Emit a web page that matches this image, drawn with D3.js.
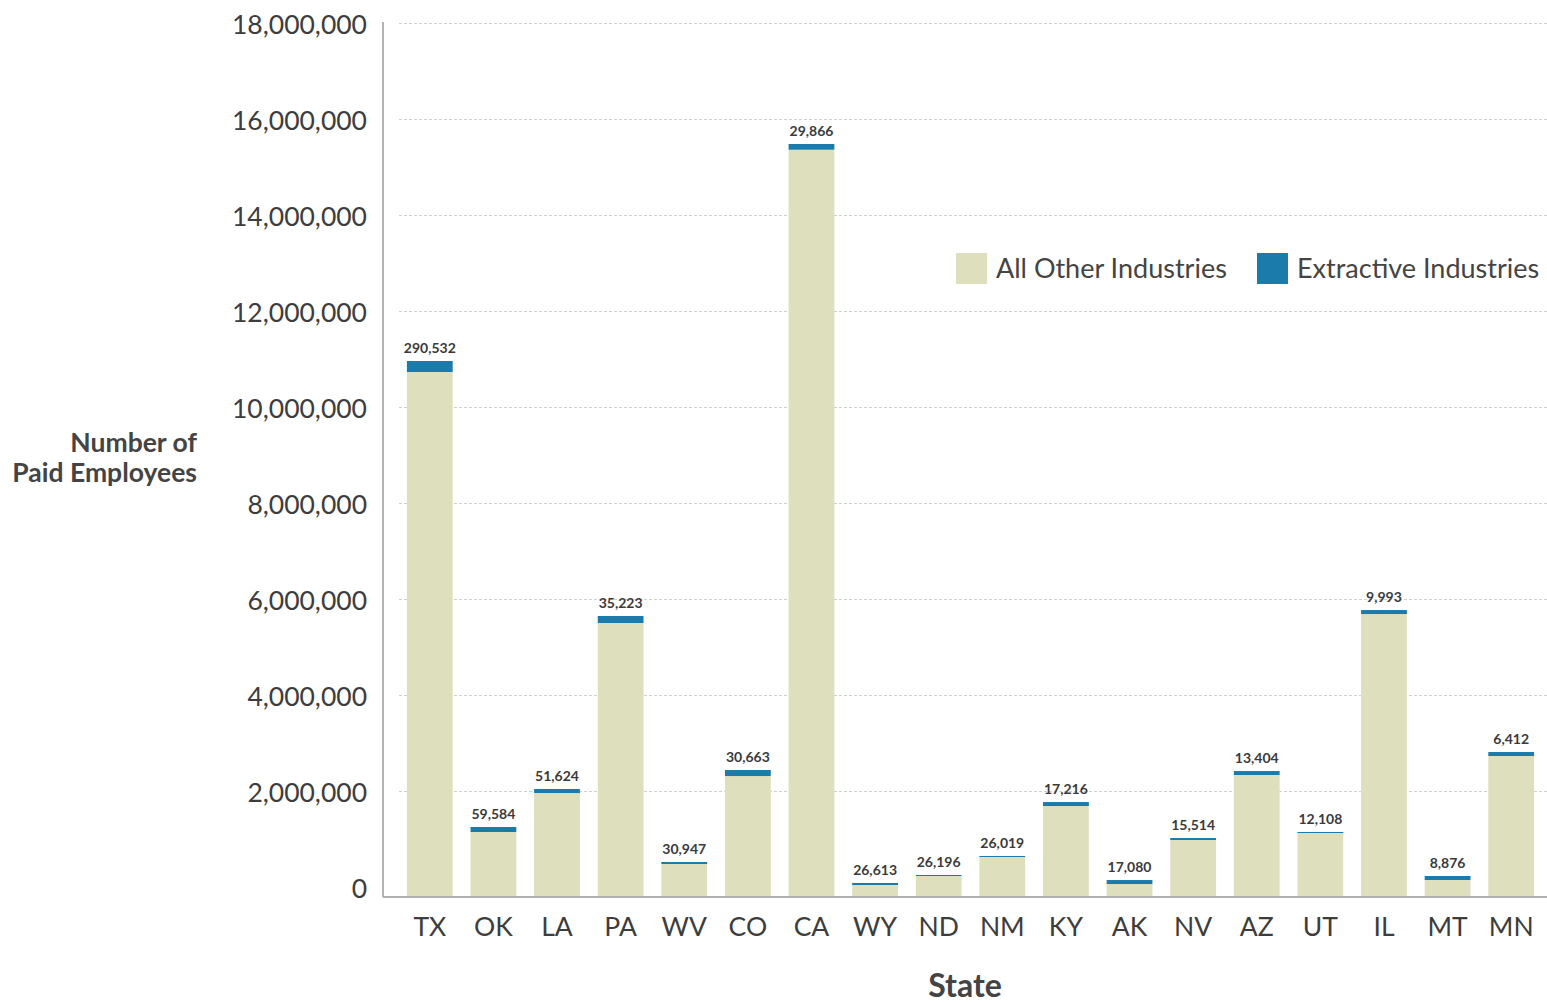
<!DOCTYPE html>
<html lang="en">
<head>
    <meta charset="UTF-8">
    <title>Paid Employees by State</title>
    <script src="https://d3js.org/d3.v7.min.js"></script>
    <style>
        body { margin: 0; background: #fff; }
        svg { font-family: Lato, "Open Sans", sans-serif; display: block; }
        .tick text { fill: #3d3d3d; }
    </style>
</head>
<body>
    <svg width="1547" height="1002"></svg>
    <script>
        // data
        const states = ["TX", "OK", "LA", "PA", "WV", "CO", "CA", "WY", "ND", "NM", "KY", "AK", "NV", "AZ", "UT", "IL", "MT", "MN"];
        // all other industries (beige part), as it sits on the axis
        const allOther = [10729000, 1146000, 1958000, 5500000, 479000, 2312000, 15360000, 42000, 229000, 625000,
                          1687000, 62000, 979000, 2333000, 1125000, 5687000, 146000, 2729000];
        // extractive industries segment (blue part), as drawn
        const extractive = [229000, 104000, 84000, 146000, 42000, 125000, 119000, 42000, 21000, 21000,
                            83000, 83000, 42000, 83000, 21000, 83000, 83000, 83000];
        // numbers printed above the bars
        const extractiveLabels = [290532, 59584, 51624, 35223, 30947, 30663, 29866, 26613, 26196, 26019,
                                  17216, 17080, 15514, 13404, 12108, 9993, 8876, 6412];
        const yTicks = [0, 2000000, 4000000, 6000000, 8000000, 10000000, 12000000, 14000000, 16000000, 18000000];
        const seriesNames = ["All Other Industries", "Extractive Industries"];
        const colors = ["#dedfbd", "#1b7bab"];

        const svg = d3.select("svg");
        const axisX = 383, baseY = 897;   // axis lines sit a little below the zero tick

        const x = d3.scaleBand()
            .domain(states)
            .range([398, 1543])
            .paddingInner(0.28)
            .paddingOuter(0.14);

        const y = d3.scaleLinear()
            .domain([0, 18000000])
            .range([887, 23]);

        // gridlines
        svg.append("g")
            .selectAll("line")
            .data(yTicks.filter(d => d > 0))
            .join("line")
            .attr("x1", 399)
            .attr("x2", 1547)
            .attr("y1", d => Math.round(y(d)) + 0.5)
            .attr("y2", d => Math.round(y(d)) + 0.5)
            .attr("stroke", "#d0d0d0")
            .attr("stroke-dasharray", "3,2");

        // y axis labels
        const yAxis = svg.append("g")
            .attr("transform", `translate(${axisX},2)`)
            .call(d3.axisLeft(y).tickValues(yTicks).tickFormat(d3.format(",")).tickSize(0).tickPadding(16));
        yAxis.select(".domain").remove();
        yAxis.selectAll("text").style("font-size", "26.5px").style("font-family", "Lato");

        const rows = states.map((s, i) => ({
            state: s,
            other: allOther[i],
            ext: extractive[i],
            label: extractiveLabels[i]
        }));

        // beige bars
        svg.append("g")
            .selectAll("rect")
            .data(rows)
            .join("rect")
            .attr("x", d => x(d.state))
            .attr("width", x.bandwidth())
            .attr("y", d => y(d.other))
            .attr("height", d => baseY - y(d.other))
            .attr("fill", colors[0]);

        // blue segments on top
        svg.append("g")
            .selectAll("rect")
            .data(rows)
            .join("rect")
            .attr("x", d => x(d.state))
            .attr("width", x.bandwidth())
            .attr("y", d => y(d.other + d.ext))
            .attr("height", d => y(d.other) - y(d.other + d.ext))
            .attr("fill", colors[1]);

        // value labels
        svg.append("g")
            .selectAll("text")
            .data(rows)
            .join("text")
            .attr("x", d => x(d.state) + x.bandwidth() / 2)
            .attr("y", d => y(d.other + d.ext) - 8)
            .attr("text-anchor", "middle")
            .style("font-size", "14px")
            .style("font-weight", 700)
            .style("fill", "#3a3a3a")
            .text(d => d3.format(",")(d.label));

        // axis lines
        svg.append("line")
            .attr("x1", axisX).attr("x2", axisX)
            .attr("y1", 22).attr("y2", baseY)
            .attr("stroke", "#9a9a9a").attr("stroke-width", 1.5);

        const xAxis = svg.append("g")
            .attr("transform", `translate(0,${baseY})`)
            .call(d3.axisBottom(x).tickSize(0).tickPadding(20));
        xAxis.select(".domain").remove();
        xAxis.selectAll("text").style("font-size", "26.5px").style("font-family", "Lato");

        svg.append("line")
            .attr("x1", axisX).attr("x2", 1547)
            .attr("y1", baseY).attr("y2", baseY)
            .attr("stroke", "#b0b0b0").attr("stroke-width", 2);

        // axis titles
        const yTitle = svg.append("text")
            .attr("text-anchor", "end")
            .style("font-size", "26.5px")
            .style("font-weight", 700)
            .style("fill", "#444");
        yTitle.append("tspan").attr("x", 197).attr("y", 452).text("Number of");
        yTitle.append("tspan").attr("x", 197).attr("y", 482).text("Paid Employees");

        svg.append("text")
            .attr("x", 965)
            .attr("y", 997)
            .attr("text-anchor", "middle")
            .style("font-size", "32px")
            .style("font-weight", 700)
            .style("fill", "#444")
            .text("State");

        // legend
        const legendX = [956, 1257];
        const legend = svg.append("g")
            .selectAll("g")
            .data(seriesNames)
            .join("g")
            .attr("transform", (d, i) => `translate(${legendX[i]},253)`);
        legend.append("rect")
            .attr("width", 31)
            .attr("height", 31)
            .attr("fill", (d, i) => colors[i]);
        legend.append("text")
            .attr("x", 40)
            .attr("y", 25)
            .style("font-size", "27px")
            .style("fill", "#444")
            .text(d => d);
    </script>
</body>
</html>
